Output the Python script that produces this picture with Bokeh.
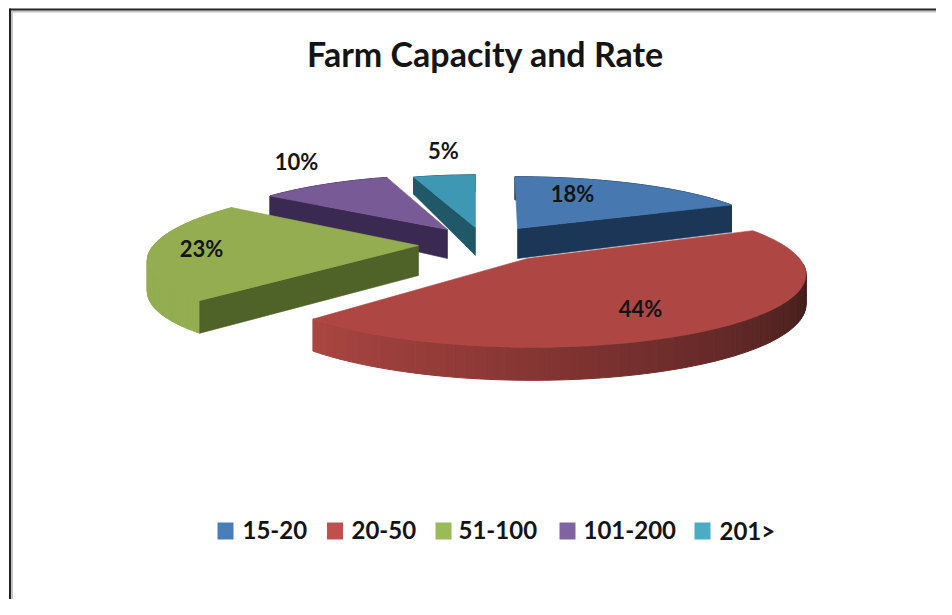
import numpy as np
from bokeh.plotting import figure
from bokeh.models import Range1d, ColumnDataSource
from bokeh.core.properties import value
from bokeh.embed import file_html
from bokeh.resources import INLINE

# ---- data ----
title_text = "Farm Capacity and Rate"
categories = ["15-20", "20-50", "51-100", "101-200", "201>"]
shares = [18, 44, 23, 10, 5]

# ---- layout and style (pixel-like plot units) ----
apex_x = [517, 527, 418, 447, 475]
apex_y = [228, 258, 245, 229, 227]
radius_x = [250, 272, 265, 240, 223]
radius_y = [58, 71, 69, 61, 59]
shear = [3, 4, -25, -7, 0]
perspective = [0.12, 0.20, 0.12, 0.12, 0.12]
depth = [30, 29, 30, 29, 28]
taper = [0.23, 0.14, 0.12, 0.41, 0.41]
face_colors = ["#4878b0", "#ae4743", "#93ad50", "#785a96", "#3e98b3"]
side_colors = ["#1c3658", "#4a1f1e", "#4f6228", "#3a2a52", "#205867"]
rim_colors = ["#1c3658", None, "#93ad50", "#3a2a52", "#205867"]
cut_faces = [[1], [], [0], [0], [0]]
legend_colors = ["#4a7ebb", "#c0504d", "#9bbb59", "#8064a2", "#4bacc6"]
label_x = [572, 640, 201, 296, 443]
label_y = [193, 308, 248, 161, 150]
legend_box_x = [225, 334.5, 443, 567, 702]
legend_text_x = [242, 351, 458, 583, 719]
legend_box_y = 530.5
legend_text_y = 529.5
draw_order = [4, 3, 0, 2, 1]

red_rim_angle = [95, 110, 150, 190, 223.2]
red_rim_rgb = np.array([[0x3f, 0x1c, 0x1b], [0x45, 0x20, 0x1e], [0x6a, 0x2b, 0x2a],
                        [0x8f, 0x3a, 0x37], [0xab, 0x46, 0x42]], dtype=float)


def rim_colour(theta):
    rgb = [int(np.interp(theta, red_rim_angle, red_rim_rgb[:, c])) for c in range(3)]
    return "#%02x%02x%02x" % tuple(rgb)


def top_point(i, deg):
    t = np.radians(deg)
    u, v = np.sin(t), -np.cos(t)
    s = 1 / (1 - perspective[i] * v)
    return apex_x[i] + (radius_x[i] * u + shear[i] * v) * s, apex_y[i] + radius_y[i] * v * s, v


def lower_point(i, deg):
    x, y, v = top_point(i, deg)
    return x, y + depth[i] * (1 + taper[i] * v)


p = figure(width=936, height=599, output_backend="svg", toolbar_location=None,
           x_range=Range1d(0, 936), y_range=Range1d(599, 0), min_border=0,
           outline_line_color=None, background_fill_color="white", border_fill_color="white")
p.axis.visible = False
p.grid.visible = False

# frame of the picture
p.segment(x0=[10], y0=[11], x1=[936], y1=[11], line_color="#c4c4c4", line_width=2)
p.segment(x0=[11.5], y0=[11], x1=[11.5], y1=[599], line_color="#c4c4c4", line_width=2)
p.segment(x0=[9, 9.5], y0=[9, 8], x1=[936, 9.5], y1=[9, 599], line_color="#222222", line_width=2)

edges = np.concatenate([[0], np.cumsum(shares)]) * 360.0 / sum(shares)

for i in draw_order:
    a0, a1 = edges[i], edges[i + 1]
    arc = np.linspace(a0, a1, 91)
    # outer rim, one strip per small step of angle
    xs, ys, cols = [], [], []
    for d0, d1 in zip(arc[:-1], arc[1:]):
        if rim_colors[i] is None and d1 < red_rim_angle[0]:
            continue
        x0, y0, _ = top_point(i, d0)
        x1, y1, _ = top_point(i, d1)
        x2, y2 = lower_point(i, d1)
        x3, y3 = lower_point(i, d0)
        xs.append([x0, x1, x2, x3])
        ys.append([y0, y1, y2, y3])
        cols.append(rim_colors[i] or rim_colour((d0 + d1) / 2))
    src = ColumnDataSource(dict(xs=xs, ys=ys, c=cols))
    p.patches("xs", "ys", source=src, fill_color="c", line_color="c", line_width=1)
    # radial cut faces
    for j in cut_faces[i]:
        a = (a0, a1)[j]
        rx, ry, _ = top_point(i, a)
        lx, ly = lower_point(i, a)
        p.patch([apex_x[i], rx, lx, apex_x[i]],
                [apex_y[i], ry, ly, apex_y[i] + depth[i]],
                fill_color=side_colors[i], line_color=side_colors[i], line_width=0.6)
    # top face
    pts = [top_point(i, a) for a in arc]
    p.patch([apex_x[i]] + [q[0] for q in pts], [apex_y[i]] + [q[1] for q in pts],
            fill_color=face_colors[i], line_color=face_colors[i], line_width=0.6)

font = value("Lato")
p.text(x=[485], y=[53], text=[title_text], text_font=font, text_font_size="34px", text_font_style="bold",
       text_align="center", text_baseline="middle", text_color="#141414")
p.text(x=label_x, y=label_y, text=["%d%%" % s for s in shares], text_font=font, text_font_size="22px",
       text_font_style="bold", text_align="center", text_baseline="middle", text_color="#141414")
p.rect(x=legend_box_x, y=[legend_box_y] * 5, width=16, height=17, fill_color=legend_colors, line_color=None)
p.text(x=legend_text_x, y=[legend_text_y] * 5, text=categories, text_font=font, text_font_size="24px",
       text_font_style="bold", text_align="left", text_baseline="middle", text_color="#141414")

open("out.html", "w").write(file_html(p, INLINE))
